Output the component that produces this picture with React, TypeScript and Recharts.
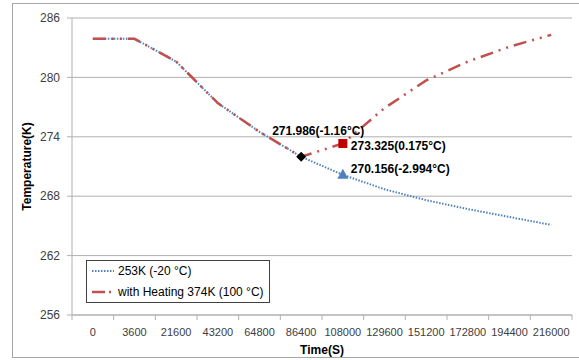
import React from "react";
import { LineChart, Line, XAxis, YAxis, CartesianGrid } from "recharts";

const categories = ["0", "3600", "21600", "43200", "64800", "86400", "108000", "129600", "151200", "172800", "194400", "216000"];
const cold253 = [283.9, 283.9, 281.6, 277.4, 274.5, 271.986, 270.156, 268.7, 267.6, 266.7, 265.9, 265.1];
const heating374 = [283.9, 283.9, 281.6, 277.4, 274.5, 271.986, 273.325, 276.9, 279.7, 281.6, 283.1, 284.3];
const yTicks = [256, 262, 268, 274, 280, 286];
const seriesNames = ["253K (-20 °C)", "with Heating 374K (100 °C)"];

// annotations: [category index, text]
const diamondNote = { index: 5, text: "271.986(-1.16°C)" };
const squareNote = { index: 6, text: "273.325(0.175°C)" };
const triangleNote = { index: 6, text: "270.156(-2.994°C)" };

const data = categories.map((c, i) => ({ t: c, a: cold253[i], b: heating374[i] }));

const W = 579;
const H = 360;
const PLOT_LEFT = 72;
const PLOT_RIGHT = 7;
const PLOT_W = W - PLOT_LEFT - PLOT_RIGHT;
const BAND = PLOT_W / categories.length;
const FONT = "'Liberation Sans', Arial, sans-serif";
const BLUE = "#4f81bd";
const RED = "#c0504d";
const GRID = "#b0b0b0";

const XTick = (props: any) => {
  const { x, y, payload, index } = props;
  const base = y - 13;
  return (
    <g>
      <line x1={x - BAND / 2} x2={x - BAND / 2} y1={base} y2={base + 5} stroke={GRID} />
      {index === categories.length - 1 && (
        <line x1={x + BAND / 2} x2={x + BAND / 2} y1={base} y2={base + 5} stroke={GRID} />
      )}
      <text x={x} y={y} dy="0.71em" textAnchor="middle" fontSize={11} fontFamily={FONT} fill="#404040">
        {payload.value}
      </text>
    </g>
  );
};

const labelStyle = { fontSize: 12, fontWeight: 700, fontFamily: FONT, fill: "#000" } as const;

const blueDot = (props: any) => {
  const { cx, cy, index } = props;
  if (index === diamondNote.index) {
    return (
      <g key={"bd" + index}>
        <polygon points={`${cx},${cy - 5} ${cx + 5},${cy} ${cx},${cy + 5} ${cx - 5},${cy}`} fill="#000" />
        <text x={cx - 29} y={cy - 26} dy="0.35em" {...labelStyle}>{diamondNote.text}</text>
      </g>
    );
  }
  if (index === triangleNote.index) {
    return (
      <g key={"bt" + index}>
        <polygon points={`${cx},${cy - 6} ${cx + 5.5},${cy + 4} ${cx - 5.5},${cy + 4}`} fill={BLUE} />
        <text x={cx + 8} y={cy - 6} dy="0.35em" {...labelStyle}>{triangleNote.text}</text>
      </g>
    );
  }
  return <g key={"b" + index} />;
};

const redDot = (props: any) => {
  const { cx, cy, index } = props;
  if (index === squareNote.index) {
    return (
      <g key={"rs" + index}>
        <rect x={cx - 4.5} y={cy - 4.5} width={9} height={9} fill="#c00000" />
        <text x={cx + 8} y={cy + 2} dy="0.35em" {...labelStyle}>{squareNote.text}</text>
      </g>
    );
  }
  return <g key={"r" + index} />;
};

const LegendBox = () => (
  <div
    style={{
      position: "absolute",
      left: 86,
      top: 260,
      width: 184,
      height: 43,
      border: "1px solid #404040",
      background: "#fff",
      boxSizing: "border-box",
    }}
  >
    <svg width={182} height={41} style={{ position: "absolute", left: 0, top: 0 }}>
      <line x1={5} x2={27} y1={10} y2={10} stroke={BLUE} strokeWidth={2} strokeDasharray="1.5 1.5" />
      <text x={31} y={10} dy="0.35em" fontSize={12} fontFamily={FONT}>{seriesNames[0]}</text>
      <line x1={5} x2={27} y1={31} y2={31} stroke={RED} strokeWidth={2.5} strokeDasharray="13 4 2 30" />
      <text x={31} y={31} dy="0.35em" fontSize={12} fontFamily={FONT}>{seriesNames[1]}</text>
    </svg>
  </div>
);

export default function App() {
  return (
    <div style={{ position: "absolute", left: 0, top: 0, width: W, height: H, background: "#fff", overflow: "hidden" }}>
      <div
        style={{
          position: "absolute",
          left: 12,
          top: 3,
          width: 620,
          height: 355,
          border: "1px solid #a6a6a6",
          boxSizing: "border-box",
        }}
      />
      <div style={{ position: "absolute", left: 0, top: 0 }}>
        <LineChart width={W} height={H} data={data} margin={{ top: 18, right: PLOT_RIGHT, bottom: 0, left: 0 }}>
          <CartesianGrid vertical={false} stroke={GRID} />
          <XAxis
            dataKey="t"
            scale="band"
            interval={0}
            height={45}
            tickSize={5}
            tickMargin={8}
            tickLine={false}
            axisLine={{ stroke: GRID }}
            tick={<XTick />}
            label={{ value: "Time(S)", position: "insideBottom", offset: 6, style: { fontSize: 12, fontWeight: 700, fontFamily: FONT, fill: "#000" } }}
          />
          <YAxis
            width={PLOT_LEFT}
            domain={[256, 286]}
            ticks={yTicks}
            tickSize={5}
            tickMargin={7}
            tickLine={{ stroke: GRID }}
            axisLine={{ stroke: GRID }}
            tick={{ fontSize: 12, fontFamily: FONT, fill: "#404040" }}
            label={{
              value: "Temperature(K)",
              angle: -90,
              position: "insideLeft",
              offset: 27,
              style: { fontSize: 12, fontWeight: 700, fontFamily: FONT, fill: "#000", textAnchor: "middle" },
            }}
          />
          <Line
            dataKey="a"
            name={seriesNames[0]}
            stroke={BLUE}
            strokeWidth={2}
            strokeDasharray="1.5 1.5"
            dot={blueDot}
            activeDot={false}
            isAnimationActive={false}
          />
          <Line
            dataKey="b"
            name={seriesNames[1]}
            stroke={RED}
            strokeWidth={2.5}
            strokeDasharray="13 6 2 6 2 6"
            dot={redDot}
            activeDot={false}
            isAnimationActive={false}
          />
        </LineChart>
      </div>
      <LegendBox />
    </div>
  );
}
